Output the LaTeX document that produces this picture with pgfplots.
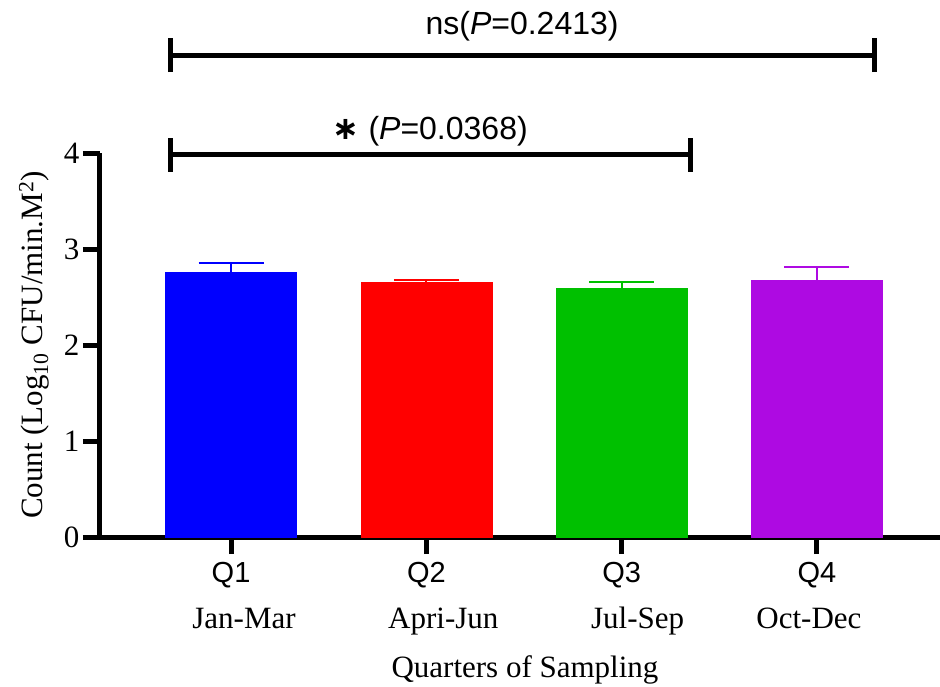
\documentclass[border=0pt]{standalone}
\usepackage{fontspec}
\setmainfont{Liberation Serif}
\setsansfont{Liberation Sans}
\newfontfamily\dejavu{DejaVu Sans}
\usepackage{pgfplots}
\pgfplotsset{compat=1.18}
\definecolor{qblue}{RGB}{0,0,255}
\definecolor{qred}{RGB}{255,0,0}
\definecolor{qgreen}{RGB}{0,192,0}
\definecolor{qpurple}{RGB}{174,10,226}
\newcommand{\sigfont}{\sffamily\fontsize{32bp}{36bp}\selectfont}
\newcommand{\qfont}{\sffamily\fontsize{29bp}{46bp}\selectfont}
\newcommand{\labfont}{\fontsize{31bp}{46bp}\selectfont}
\begin{document}
\begin{tikzpicture}
\begin{axis}[
  at={(0,0)}, anchor=south west,
  scale only axis, width=840bp, height=384bp,
  xmin=-0.671, xmax=3.630, ymin=0, ymax=4,
  clip=false,
  axis x line=bottom, axis y line=left,
  axis line style={-, line width=5bp},
  xtick={0,1,2,3}, ytick={0,1,2,3,4},
  tick align=outside, major tick length=17bp,
  every tick/.style={line width=5bp, black},
  major tick style={line width=5bp, black},
  xticklabels={
    {{\qfont Q1}\\\hspace*{26bp}Jan-Mar},
    {{\qfont Q2}\\\hspace*{34bp}Apri-Jun},
    {{\qfont Q3}\\\hspace*{32bp}Jul-Sep},
    {{\qfont Q4}\\Oct-Dec\hspace*{16bp}}},
  xticklabel style={align=center, font=\labfont, anchor=north, yshift=-5bp},
  yticklabel style={font=\labfont},
  /pgf/number format/assume math mode=true,
  xlabel={Quarters of Sampling},
  xlabel style={font=\labfont, at={(axis description cs:0.5,0)}, anchor=base, xshift=5bp, yshift=-140bp},
  ylabel={Count (Log\textsubscript{10} CFU/min.M\textsuperscript{2})},
  ylabel style={font=\labfont, at={(axis description cs:0,0.5)}, anchor=center, yshift=66bp},
]
\addplot[ybar, bar width=0.67, bar shift=0, fill=qblue, draw=qblue, line width=0.5bp,
  error bars/.cd, y dir=plus, y explicit,
  error bar style={draw=qblue, line width=2bp},
  error mark options={draw=qblue, rotate=90, mark size=32.5bp, line width=2bp}]
  coordinates {(0,2.76) +- (0,0.094)};
\addplot[ybar, bar width=0.67, bar shift=0, fill=qred, draw=qred, line width=0.5bp,
  error bars/.cd, y dir=plus, y explicit,
  error bar style={draw=qred, line width=2bp},
  error mark options={draw=qred, rotate=90, mark size=32.5bp, line width=2bp}]
  coordinates {(1,2.656) +- (0,0.026)};
\addplot[ybar, bar width=0.67, bar shift=0, fill=qgreen, draw=qgreen, line width=0.5bp,
  error bars/.cd, y dir=plus, y explicit,
  error bar style={draw=qgreen, line width=2bp},
  error mark options={draw=qgreen, rotate=90, mark size=32.5bp, line width=2bp}]
  coordinates {(2,2.59) +- (0,0.07)};
\addplot[ybar, bar width=0.67, bar shift=0, fill=qpurple, draw=qpurple, line width=0.5bp,
  error bars/.cd, y dir=plus, y explicit,
  error bar style={draw=qpurple, line width=2bp},
  error mark options={draw=qpurple, rotate=90, mark size=32.5bp, line width=2bp}]
  coordinates {(3,2.67) +- (0,0.146)};
\coordinate (a1) at (axis cs:-0.312,5.02);
\coordinate (b1) at (axis cs:3.297,5.02);
\coordinate (t1) at (axis cs:1.49,5.23);
\coordinate (a2) at (axis cs:-0.312,3.98);
\coordinate (b2) at (axis cs:2.35,3.98);
\coordinate (t2) at (axis cs:1.02,4.14);
\end{axis}
\draw[line width=5bp] (a1) -- (b1);
\draw[line width=5bp] ([yshift=-17bp]a1) -- ([yshift=17bp]a1);
\draw[line width=5bp] ([yshift=-17bp]b1) -- ([yshift=17bp]b1);
\node[anchor=base, font=\sigfont] at (t1) {ns(\textit{P}=0.2413)};
\draw[line width=5bp] (a2) -- (b2);
\draw[line width=5bp] ([yshift=-17bp]a2) -- ([yshift=17bp]a2);
\draw[line width=5bp] ([yshift=-17bp]b2) -- ([yshift=17bp]b2);
\node[anchor=base, font=\sigfont] at (t2) {{\dejavu\bfseries ∗} (\textit{P}=0.0368)};
\pgfresetboundingbox
\path[use as bounding box] (-100bp,-150bp) rectangle (840bp,537bp);
\end{tikzpicture}
\end{document}
